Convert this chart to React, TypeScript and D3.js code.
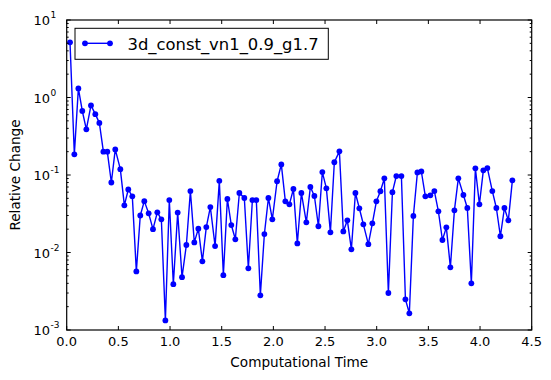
import React from "react";
import * as d3 from "d3";

const times = [0.032,0.074,0.113,0.151,0.190,0.235,0.277,0.316,0.355,0.393,0.432,0.470,0.519,0.558,0.596,0.635,0.674,0.712,0.751,0.793,0.835,0.877,0.916,0.955,0.993,1.032,1.074,1.116,1.158,1.197,1.235,1.274,1.313,1.351,1.390,1.436,1.477,1.516,1.555,1.593,1.632,1.671,1.719,1.758,1.797,1.835,1.874,1.913,1.952,1.990,2.036,2.077,2.116,2.155,2.194,2.232,2.271,2.319,2.358,2.397,2.436,2.474,2.513,2.552,2.590,2.639,2.677,2.716,2.755,2.794,2.832,2.871,2.919,2.958,2.997,3.036,3.074,3.113,3.152,3.190,3.239,3.278,3.316,3.355,3.394,3.432,3.471,3.519,3.558,3.597,3.636,3.674,3.713,3.752,3.790,3.839,3.877,3.916,3.955,3.994,4.032,4.071,4.119,4.158,4.197,4.236,4.274,4.313];

const values = [5.15,0.185,1.31,0.67,0.388,0.79,0.61,0.47,0.20,0.20,0.080,0.214,0.119,0.0406,0.065,0.053,0.0057,0.030,0.046,0.032,0.020,0.033,0.0268,0.00133,0.0475,0.0039,0.0327,0.0048,0.0125,0.062,0.0135,0.0203,0.0077,0.0213,0.0386,0.0121,0.084,0.0051,0.049,0.0226,0.0148,0.0586,0.0505,0.00625,0.0475,0.0475,0.0028,0.0173,0.0505,0.0268,0.083,0.137,0.0457,0.0418,0.066,0.0131,0.0586,0.0245,0.070,0.0536,0.0218,0.109,0.0673,0.0182,0.146,0.202,0.0187,0.026,0.0110,0.0586,0.0372,0.0231,0.0128,0.0238,0.0457,0.0617,0.0905,0.0030,0.060,0.097,0.097,0.00249,0.00164,0.0296,0.108,0.111,0.053,0.0547,0.062,0.034,0.0145,0.0211,0.00644,0.035,0.0905,0.0552,0.0375,0.0040,0.122,0.0418,0.115,0.123,0.062,0.0375,0.0162,0.0375,0.026,0.0853];

const seriesName = "3d_const_vn1_0.9_g1.7";
const xTicks = [0, 0.5, 1.0, 1.5, 2.0, 2.5, 3.0, 3.5, 4.0, 4.5];
const yExponents = [-3, -2, -1, 0, 1];
const xLabel = "Computational Time";
const yLabel = "Relative Change";

const W = 551, H = 380;
const L = 66.7, R = 531.7, T = 20, B = 330;
const FONT = "DejaVu Sans, sans-serif";
const BLUE = "#0000ff";

export default function App() {
  const x = d3.scaleLinear().domain([0, 4.5]).range([L, R]);
  const y = d3.scaleLog().domain([1e-3, 1e1]).range([B, T]);
  const data = times.map((t, i) => [t, values[i]] as [number, number]);
  const line = d3.line<[number, number]>().x(d => x(d[0])).y(d => y(d[1]));

  const minor: number[] = [];
  for (let e = -3; e < 1; e++) for (let m = 2; m <= 9; m++) minor.push(m * Math.pow(10, e));

  return (
    <svg width={W} height={H} style={{ position: "absolute", left: 0, top: 0 }}>
      <rect x={0} y={0} width={W} height={H} fill="#ffffff" />
      <rect x={L} y={T} width={R - L} height={B - T} fill="#ffffff" />
      {/* data */}
      <path d={line(data) || ""} fill="none" stroke={BLUE} strokeWidth={1.4} strokeLinejoin="round" />
      {data.map((d, i) => (
        <circle key={i} cx={x(d[0])} cy={y(d[1])} r={2.9} fill={BLUE} />
      ))}
      {/* x ticks */}
      {xTicks.map((t, i) => (
        <g key={"xt" + i}>
          <line x1={x(t)} x2={x(t)} y1={B} y2={B - 4} stroke="#000" strokeWidth={1} />
          <line x1={x(t)} x2={x(t)} y1={T} y2={T + 4} stroke="#000" strokeWidth={1} />
          <text x={x(t)} y={346} textAnchor="middle" fontFamily={FONT} fontSize={13} fill="#000">
            {t.toFixed(1)}
          </text>
        </g>
      ))}
      {/* y major ticks */}
      {yExponents.map((e, i) => {
        const yy = y(Math.pow(10, e));
        return (
          <g key={"yt" + i}>
            <line x1={L} x2={L + 4} y1={yy} y2={yy} stroke="#000" strokeWidth={1} />
            <line x1={R} x2={R - 4} y1={yy} y2={yy} stroke="#000" strokeWidth={1} />
            <text x={50} y={yy + 5} textAnchor="end" fontFamily={FONT} fontSize={13} fill="#000">10</text>
            <text x={50.5} y={yy - 2} textAnchor="start" fontFamily={FONT} fontSize={9} fill="#000">
              {e < 0 ? "-" + Math.abs(e) : String(e)}
            </text>
          </g>
        );
      })}
      {minor.map((v, i) => {
        const yy = y(v);
        return (
          <g key={"ym" + i}>
            <line x1={L} x2={L + 2} y1={yy} y2={yy} stroke="#000" strokeWidth={1} />
            <line x1={R} x2={R - 2} y1={yy} y2={yy} stroke="#000" strokeWidth={1} />
          </g>
        );
      })}
      {/* frame */}
      <rect x={L} y={T} width={R - L} height={B - T} fill="none" stroke="#000" strokeWidth={1.2} />
      {/* axis labels */}
      <text x={(L + R) / 2} y={367} textAnchor="middle" fontFamily={FONT} fontSize={13.6} fill="#000">{xLabel}</text>
      <text transform={`translate(20,${(T + B) / 2}) rotate(-90)`} textAnchor="middle" fontFamily={FONT} fontSize={13.6} fill="#000">{yLabel}</text>
      {/* legend */}
      <rect x={75} y={28.3} width={253.3} height={31} fill="#ffffff" stroke="#000" strokeWidth={1} />
      <line x1={85} x2={110} y1={43.3} y2={43.3} stroke={BLUE} strokeWidth={1.4} />
      <circle cx={85} cy={43.3} r={2.9} fill={BLUE} />
      <circle cx={110} cy={43.3} r={2.9} fill={BLUE} />
      <text x={127.5} y={49.5} fontFamily={FONT} fontSize={16.4} fill="#000">{seriesName}</text>
    </svg>
  );
}
